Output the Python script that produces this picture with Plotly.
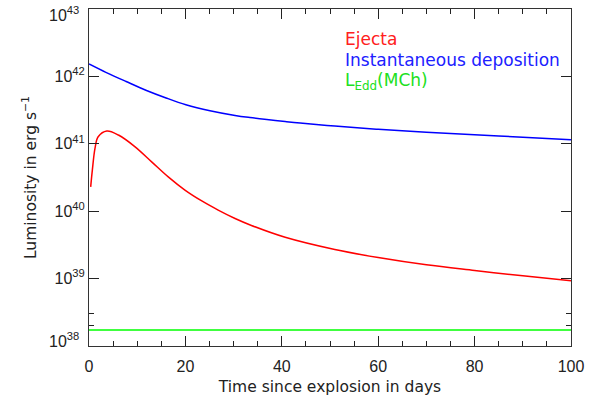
import plotly.graph_objects as go

# Data
t_ejecta = [0.35, 0.7, 1.25, 1.9, 3.7, 6.1, 9.5, 13, 16.5, 19.9, 23.4, 26.8, 30.3, 33.7, 40.7, 51, 60, 70, 80, 90, 100]
L_ejecta = [2.3e40, 4.1e40, 8.6e40, 1.27e41, 1.55e41, 1.35e41, 9.1e40, 5.4e40, 3.2e40, 2.06e40, 1.42e40, 1.04e40,
            7.8e39, 6.15e39, 4.1e39, 2.7e39, 2.05e39, 1.6e39, 1.32e39, 1.1e39, 9.3e38]

t_inst = [0, 3.5, 7.7, 11.8, 16, 20.1, 25.1, 30.3, 33.4, 40.7, 43.8, 51, 60, 70, 80, 90, 100]
L_inst = [1.53e42, 1.15e42, 8.4e41, 6.24e41, 4.79e41, 3.8e41, 3.09e41, 2.63e41, 2.45e41, 2.14e41, 2.03e41,
          1.83e41, 1.64e41, 1.48e41, 1.36e41, 1.25e41, 1.15e41]

t_edd = [0, 100]
L_edd = [1.72e38, 1.72e38]

x_ticks = [0, 20, 40, 60, 80, 100]
y_tickvals = [1e38, 1e39, 1e40, 1e41, 1e42, 1e43]
y_ticktext = ["", "10<sup>39</sup>", "10<sup>40</sup>", "10<sup>41</sup>", "10<sup>42</sup>", ""]
y_edge_labels = ["10<sup>38</sup>", "10<sup>43</sup>"]
y_minor = [2e38, 3e38]

TICKFONT = "Liberation Sans"
FONT = "DejaVu Sans"
INK = "#222"

fig = go.Figure()
fig.add_trace(go.Scatter(x=t_ejecta, y=L_ejecta, mode="lines",
                         line=dict(color="#ff0000", width=1.5, shape="spline", smoothing=1.0),
                         name="Ejecta"))
fig.add_trace(go.Scatter(x=t_inst, y=L_inst, mode="lines",
                         line=dict(color="#0000ff", width=1.5, shape="spline", smoothing=1.0),
                         name="Instantaneous deposition"))
fig.add_trace(go.Scatter(x=t_edd, y=L_edd, mode="lines", line=dict(color="#00ff00", width=1.5),
                         name="L_Edd(MCh)"))

PL, PR, PT, PB = 89, 571, 9, 346
fig.update_layout(
    width=597, height=400,
    margin=dict(l=PL, r=597 - PR, t=PT, b=400 - PB, autoexpand=False),
    paper_bgcolor="white", plot_bgcolor="white",
    showlegend=False,
    font=dict(family=FONT, size=16, color=INK),
    xaxis=dict(range=[0, 100], tickvals=x_ticks, ticks="inside", ticklen=10, tickcolor=INK,
               showline=True, linecolor="#333", linewidth=1, mirror="ticks", showgrid=False, zeroline=False,
               automargin=False, ticklabeloverflow="allow", ticklabelstandoff=6,
               minor=dict(dtick=5, ticks="inside", ticklen=5, tickcolor=INK, showgrid=False),
               title=dict(text="Time since explosion in days", standoff=6,
                          font=dict(family=FONT, size=15.5)),
               tickfont=dict(family=TICKFONT, size=16)),
    yaxis=dict(type="log", range=[37.99999, 43.00001], tickvals=y_tickvals, ticktext=y_ticktext,
               ticks="inside", ticklen=10, tickcolor=INK, automargin=False, ticklabeloverflow="allow",
               showline=True, linecolor="#333", linewidth=1, mirror="ticks", showgrid=False, zeroline=False,
               minor=dict(tickvals=y_minor, ticks="inside", ticklen=5, tickcolor=INK, showgrid=False),
               title=dict(text="Luminosity in erg s<sup>−1</sup>", standoff=14,
                          font=dict(family=FONT, size=15.5)),
               tickfont=dict(family=TICKFONT, size=16)),
)

# top / bottom decade labels, kept inside the axis extent as in the reference
for txt, ypx in zip(y_edge_labels, [339.5, 14.5]):
    fig.add_annotation(text=txt, xref="paper", yref="paper", x=(81 - PL) / (PR - PL),
                       y=(PB - ypx) / (PB - PT), xanchor="right", yanchor="middle", showarrow=False,
                       font=dict(family=TICKFONT, size=16, color=INK))

legend_items = [
    ("Ejecta", "#ff2020", 0),
    ("Instantaneous deposition", "#2020ff", 1),
    ("L<sub>Edd</sub>(MCh)", "#20e020", 2),
]
for txt, col, i in legend_items:
    fig.add_annotation(text=txt, xref="paper", yref="paper", x=(343 - PL) / (PR - PL),
                       y=1 - (39 + 21 * i - PT) / (PB - PT), xanchor="left", yanchor="middle",
                       showarrow=False, font=dict(family=FONT, size=17, color=col))

fig.write_html("out.html", post_script="document.body.style.margin='0';",
               config={"displayModeBar": False})
